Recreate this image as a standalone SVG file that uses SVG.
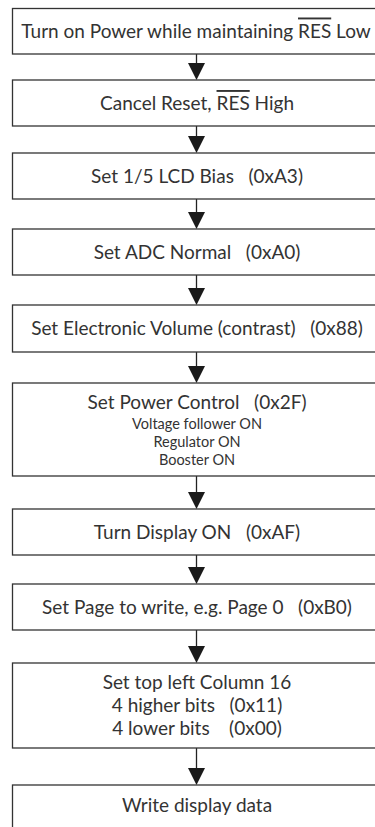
<svg xmlns="http://www.w3.org/2000/svg" width="375" height="827" viewBox="0 0 375 827">
<style>
.box{fill:#fff;stroke:#333;stroke-width:1.3}
.t{font-family:"Lato","Open Sans",sans-serif;font-size:19px;fill:#333;text-anchor:middle;white-space:pre}
.s{font-family:"Lato","Open Sans",sans-serif;font-size:14.5px;fill:#333;text-anchor:middle;white-space:pre}
.c line{stroke:#222;stroke-width:1.3}
.c polygon{fill:#1a1a1a}
</style>
<rect width="375" height="827" fill="#fff"/>
<g class="c" id="connectors">
<line x1="196.5" y1="54" x2="196.5" y2="64"/><polygon points="188,63 205,63 196.5,80"/>
<line x1="196.5" y1="126" x2="196.5" y2="137"/><polygon points="188,136 205,136 196.5,153"/>
<line x1="196.5" y1="199" x2="196.5" y2="213"/><polygon points="188,212 205,212 196.5,229"/>
<line x1="196.5" y1="275" x2="196.5" y2="289"/><polygon points="188,288 205,288 196.5,305"/>
<line x1="196.5" y1="352" x2="196.5" y2="367"/><polygon points="188,366 205,366 196.5,383"/>
<line x1="196.5" y1="476" x2="196.5" y2="493"/><polygon points="188,492 205,492 196.5,509"/>
<line x1="196.5" y1="555" x2="196.5" y2="568"/><polygon points="188,567 205,567 196.5,584"/>
<line x1="196.5" y1="630" x2="196.5" y2="647"/><polygon points="188,646 205,646 196.5,663"/>
<line x1="196.5" y1="748" x2="196.5" y2="769"/><polygon points="188,768 205,768 196.5,785"/>
</g>
<g id="n1"><rect class="box" x="12.5" y="8.5" width="370" height="45.5"/><text class="t" x="196" y="37.5">Turn on Power while maintaining <tspan text-decoration="overline">RES</tspan> Low</text></g>
<g id="n2"><rect class="box" x="12.5" y="80" width="370" height="46"/><text class="t" x="197" y="110">Cancel Reset, <tspan text-decoration="overline">RES</tspan> High</text></g>
<g id="n3"><rect class="box" x="12.5" y="153" width="370" height="46"/><text class="t" x="197" y="183">Set 1/5 LCD Bias   (0xA3)</text></g>
<g id="n4"><rect class="box" x="12.5" y="229" width="370" height="46"/><text class="t" x="197" y="259">Set ADC Normal   (0xA0)</text></g>
<g id="n5"><rect class="box" x="12.5" y="305" width="370" height="47"/><text class="t" x="197" y="335">Set Electronic Volume (contrast)   (0x88)</text></g>
<g id="n6"><rect class="box" x="12.5" y="383" width="370" height="93"/><text class="t" x="197" y="409">Set Power Control   (0x2F)</text><text class="s" x="197" y="428.5">Voltage follower ON</text><text class="s" x="197" y="446.5">Regulator ON</text><text class="s" x="197" y="464.5">Booster ON</text></g>
<g id="n7"><rect class="box" x="12.5" y="509" width="370" height="46"/><text class="t" x="197" y="539">Turn Display ON   (0xAF)</text></g>
<g id="n8"><rect class="box" x="12.5" y="584" width="370" height="46"/><text class="t" x="197" y="614">Set Page to write, e.g. Page 0   (0xB0)</text></g>
<g id="n9"><rect class="box" x="12.5" y="663" width="370" height="85"/><text class="t" x="197" y="689">Set top left Column 16</text><text class="t" x="197" y="712">4 higher bits   (0x11)</text><text class="t" x="197" y="735">4 lower bits    (0x00)</text></g>
<g id="n10"><rect class="box" x="12.5" y="785" width="370" height="50"/><text class="t" x="197" y="812">Write display data</text></g>
</svg>
